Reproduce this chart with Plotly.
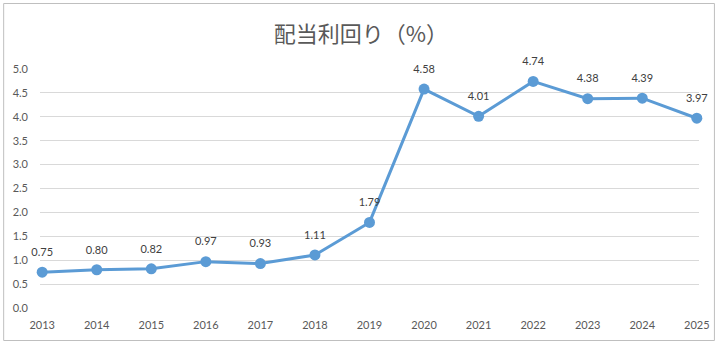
import plotly.graph_objects as go

years = [2013, 2014, 2015, 2016, 2017, 2018, 2019, 2020, 2021, 2022, 2023, 2024, 2025]
yields = [0.75, 0.80, 0.82, 0.97, 0.93, 1.11, 1.79, 4.58, 4.01, 4.74, 4.38, 4.39, 3.97]
labels = [f"{v:.2f}" for v in yields]
y_ticks = [0.0, 0.5, 1.0, 1.5, 2.0, 2.5, 3.0, 3.5, 4.0, 4.5, 5.0]
title = "配当利回り（%）"

W, H = 722, 346
ml, mr, mt, mb = 40, 20, 69, 38
pw, ph = W - ml - mr, H - mt - mb
num_font = "Lato, Liberation Sans, sans-serif"

fig = go.Figure()
fig.add_trace(go.Scatter(
    x=years, y=yields, mode="lines+markers",
    line=dict(color="#5B9BD5", width=3),
    marker=dict(color="#5B9BD5", size=11),
    cliponaxis=False, showlegend=False,
))
# data labels, offset above points via an invisible larger marker
fig.add_trace(go.Scatter(
    x=years, y=yields, mode="markers+text",
    text=labels, textposition="top center",
    textfont=dict(size=11, color="#404040", family=num_font),
    marker=dict(size=20, opacity=0, color="#5B9BD5"),
    cliponaxis=False, showlegend=False, hoverinfo="skip",
))

def px_to_paper_x(px):
    return (px - ml) / pw

def px_to_paper_y(py):
    return (H - mb - py) / ph

fig.add_shape(type="rect", xref="paper", yref="paper",
              x0=px_to_paper_x(3.5), x1=px_to_paper_x(717.5),
              y0=px_to_paper_y(340.5), y1=px_to_paper_y(3.5),
              line=dict(color="#BFBFBF", width=1), fillcolor="rgba(0,0,0,0)", layer="below")

fig.update_layout(
    width=W, height=H,
    margin=dict(l=ml, r=mr, t=mt, b=mb),
    paper_bgcolor="white", plot_bgcolor="white",
    title=dict(text=title, x=0.5, xref="container", y=1 - 34 / H, yanchor="middle", xanchor="center",
               font=dict(size=22, color="#595959", family="Noto Sans CJK JP")),
    xaxis=dict(range=[2012.96, 2025.04], tickmode="array", tickvals=years,
               ticktext=[str(y) for y in years], showgrid=False, zeroline=False,
               showline=False, ticks="", ticklabelstandoff=9,
               tickfont=dict(size=11, color="#595959", family=num_font)),
    yaxis=dict(range=[0, 5.0], tickmode="array", tickvals=y_ticks,
               ticktext=[f"{v:.1f}" for v in y_ticks], showgrid=True, gridcolor="#D9D9D9",
               gridwidth=1, zeroline=False, showline=False, ticks="", ticklabelstandoff=11,
               tickfont=dict(size=11, color="#595959", family=num_font)),
)

fig.write_html("out.html")
